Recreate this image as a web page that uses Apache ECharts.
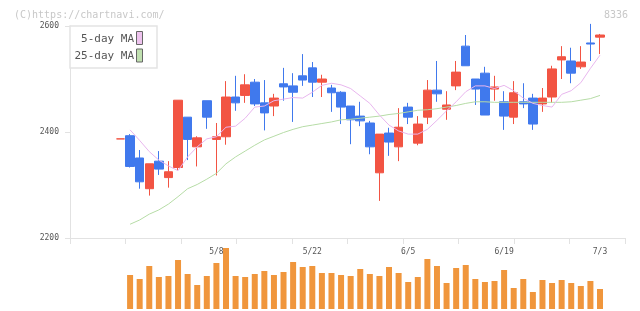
<!DOCTYPE html>
<html>
<head>
<meta charset="utf-8">
<title>8336</title>
<script src="https://cdn.jsdelivr.net/npm/echarts@6/dist/echarts.min.js"></script>
<style>
  html, body { margin: 0; padding: 0; background: #fff; }
  #chart { width: 640px; height: 311px; }
</style>
</head>
<body>
<div id="chart"></div>
<script>
// trading days 2023/4/19 - 7/3
const dates = ['4/19', '4/20', '4/21', '4/24', '4/25', '4/26', '4/27', '4/28',
  '5/1', '5/2', '5/8', '5/9', '5/10', '5/11', '5/12', '5/15', '5/16', '5/17', '5/18', '5/19',
  '5/22', '5/23', '5/24', '5/25', '5/26', '5/29', '5/30', '5/31', '6/1', '6/2',
  '6/5', '6/6', '6/7', '6/8', '6/9', '6/12', '6/13', '6/14', '6/15', '6/16',
  '6/19', '6/20', '6/21', '6/22', '6/23', '6/26', '6/27', '6/28', '6/29', '6/30', '7/3']

const opens = [2387, 2393, 2351, 2293, 2345, 2314, 2333, 2428, 2372, 2459,
  2386, 2391, 2466, 2469, 2494, 2455, 2449, 2491, 2487, 2506,
  2521, 2494, 2483, 2475, 2449, 2430, 2417, 2323, 2398, 2372,
  2447, 2379, 2428, 2479, 2443, 2487, 2562, 2500, 2511, 2481,
  2457, 2428, 2457, 2464, 2453, 2466, 2536, 2534, 2523, 2568, 2579]
const closes = [2387, 2335, 2306, 2340, 2330, 2325, 2460, 2386, 2389, 2428,
  2391, 2466, 2455, 2489, 2453, 2436, 2464, 2485, 2475, 2498,
  2494, 2500, 2474, 2447, 2423, 2421, 2372, 2396, 2381, 2409,
  2428, 2415, 2479, 2472, 2451, 2513, 2525, 2481, 2432, 2485,
  2430, 2474, 2453, 2415, 2464, 2519, 2542, 2511, 2532, 2566, 2583]
const lows = [2387, 2333, 2293, 2280, 2319, 2295, 2328, 2347, 2335, 2406,
  2318, 2376, 2440, 2455, 2449, 2403, 2430, 2459, 2419, 2487,
  2466, 2466, 2438, 2415, 2377, 2411, 2358, 2270, 2355, 2345,
  2415, 2375, 2415, 2457, 2423, 2479, 2525, 2451, 2432, 2459,
  2404, 2415, 2445, 2404, 2438, 2455, 2500, 2492, 2519, 2534, 2547]
const highs = [2387, 2396, 2366, 2340, 2364, 2345, 2460, 2428, 2392, 2459,
  2417, 2496, 2506, 2509, 2500, 2498, 2472, 2521, 2511, 2547,
  2532, 2508, 2489, 2477, 2449, 2457, 2421, 2396, 2408, 2445,
  2455, 2430, 2498, 2534, 2477, 2534, 2583, 2500, 2523, 2506,
  2477, 2496, 2492, 2472, 2483, 2525, 2562, 2559, 2562, 2604, 2585]

const ma5 = ['-', 2404, 2384, 2363, 2347, 2336, 2327, 2353, 2372, 2387,
  2391, 2409, 2411, 2426, 2447, 2449, 2459, 2462, 2465, 2464,
  2475, 2488, 2492, 2489, 2482, 2468, 2454, 2432, 2413, 2402,
  2396, 2396, 2405, 2422, 2440, 2457, 2476, 2487, 2487, 2482,
  2488, 2478, 2464, 2454, 2450, 2447, 2471, 2478, 2493, 2520, 2545]
const ma25 = ['-', 2226, 2234, 2245, 2253, 2264, 2278, 2293, 2301, 2311,
  2322, 2340, 2353, 2364, 2375, 2385, 2392, 2399, 2405, 2410,
  2413, 2416, 2419, 2423, 2424, 2426, 2428, 2430, 2433, 2435,
  2438, 2441, 2442, 2444, 2447, 2450, 2454, 2457, 2457, 2456,
  2456, 2456, 2456, 2456, 2456, 2456, 2456, 2457, 2460, 2463, 2469]

// volume (relative units)
const volumes = ['-', 34, 30, 43, 32, 33, 49, 35, 24, 33,
  46, 61, 33, 32, 35, 38, 34, 37, 47, 42,
  43, 36, 36, 34, 33, 40, 35, 33, 42, 36,
  27, 32, 50, 43, 26, 41, 44, 30, 27, 28,
  39, 21, 30, 17, 29, 26, 29, 26, 23, 28, 20]

const yTicks = [2200, 2400, 2600]

const FONT = '"DejaVu Sans Mono", monospace'
const UP = '#f25443'
const DOWN = '#4079ed'
const AXIS = '#e2e2e2'

const chart = echarts.init(document.getElementById('chart'))

const candleData = dates.map((d, i) => [opens[i], closes[i], lows[i], highs[i]])

// candle/volume grids share the same horizontal placement
const plotLeft = 115.7
const plotRight = 35.2

const option = {
  animation: false,
  grid: [
    { left: 70, right: 15, top: 26, bottom: 73 }, // frame: axis lines and ticks
    { left: plotLeft, right: plotRight, top: 26, bottom: 73 }, // candles
    { left: plotLeft, right: plotRight, top: 247, bottom: 2 }, // volume
  ],
  xAxis: [
    {
      gridIndex: 0,
      type: 'value',
      min: 0,
      max: 10,
      interval: 1,
      axisLine: { onZero: false, lineStyle: { color: AXIS } },
      axisTick: { length: 6, lineStyle: { color: AXIS } },
      axisLabel: { show: false },
      splitLine: { show: false },
    },
    {
      gridIndex: 1,
      type: 'category',
      data: dates,
      boundaryGap: true,
      axisLine: { show: false },
      axisTick: { show: false },
      axisLabel: {
        interval: (i) => i > 0 && i % 10 === 0,
        fontSize: 8,
        color: '#555',
        fontFamily: FONT,
        margin: 10,
      },
    },
    { gridIndex: 2, type: 'category', data: dates, show: false },
  ],
  yAxis: [
    {
      gridIndex: 0,
      type: 'value',
      min: yTicks[0],
      max: yTicks[yTicks.length - 1],
      interval: yTicks[1] - yTicks[0],
      axisLine: { show: true, onZero: false, lineStyle: { color: AXIS } },
      axisTick: { show: true, length: 5, lineStyle: { color: AXIS } },
      axisLabel: { fontSize: 8, color: '#555', fontFamily: FONT, margin: 11, formatter: (v) => String(v) },
      splitLine: { show: false },
    },
    { gridIndex: 1, type: 'value', min: 2200, max: 2600, show: false },
    { gridIndex: 2, type: 'value', min: 0, max: 62, show: false },
  ],
  series: [
    {
      name: '25-day MA',
      type: 'line',
      xAxisIndex: 1,
      yAxisIndex: 1,
      data: ma25,
      symbol: 'none',
      lineStyle: { color: '#b6dca6', width: 1 },
    },
    {
      name: '5-day MA',
      type: 'line',
      xAxisIndex: 1,
      yAxisIndex: 1,
      data: ma5,
      symbol: 'none',
      lineStyle: { color: '#e8b6ee', width: 1 },
    },
    {
      name: 'price',
      type: 'candlestick',
      xAxisIndex: 1,
      yAxisIndex: 1,
      data: candleData,
      barWidth: 9,
      clip: false,
      itemStyle: {
        color: UP,
        color0: DOWN,
        borderColor: UP,
        borderColor0: DOWN,
        borderColorDoji: UP,
        borderWidth: 1,
      },
    },
    {
      name: 'volume',
      type: 'bar',
      xAxisIndex: 2,
      yAxisIndex: 2,
      data: volumes,
      barWidth: 6,
      itemStyle: { color: '#f0963c' },
    },
  ],
  graphic: [
    {
      type: 'text', x: 14, y: 15, z: 100,
      style: { text: '(C)https://chartnavi.com/', fill: '#c8c8c8', font: '10px ' + FONT, align: 'left', verticalAlign: 'middle' },
    },
    {
      type: 'text', x: 628, y: 15, z: 100,
      style: { text: '8336', fill: '#c8c8c8', font: '10px ' + FONT, align: 'right', verticalAlign: 'middle' },
    },
    // legend box
    {
      type: 'rect', x: 70, y: 26, z: 100,
      shape: { width: 87, height: 42 },
      style: { fill: '#fff', stroke: '#e4e4e4', lineWidth: 1.5 },
    },
    {
      type: 'text', x: 134, y: 39, z: 101,
      style: { text: '5-day MA', fill: '#555', font: '11px ' + FONT, align: 'right', verticalAlign: 'middle' },
    },
    {
      type: 'text', x: 134, y: 56, z: 101,
      style: { text: '25-day MA', fill: '#555', font: '11px ' + FONT, align: 'right', verticalAlign: 'middle' },
    },
    {
      type: 'rect', x: 136.5, y: 31.5, z: 101,
      shape: { width: 6, height: 13 },
      style: { fill: '#eec3ee', stroke: '#666', lineWidth: 1 },
    },
    {
      type: 'rect', x: 136.5, y: 49, z: 101,
      shape: { width: 6, height: 13 },
      style: { fill: '#c0e0b0', stroke: '#666', lineWidth: 1 },
    },
  ],
}

chart.setOption(option)
</script>
</body>
</html>
